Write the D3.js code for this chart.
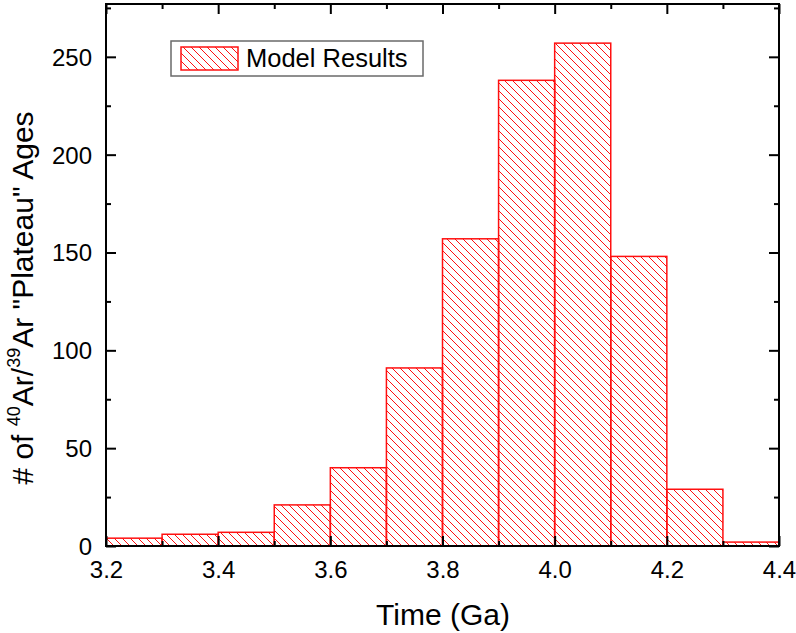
<!DOCTYPE html>
<html>
<head>
<meta charset="utf-8">
<script src="https://cdn.jsdelivr.net/npm/d3@7"></script>
<style>
  html, body { margin: 0; padding: 0; background: #fff; }
  svg { display: block; }
  text { font-family: "Liberation Sans", Arial, sans-serif; fill: #000; }
</style>
</head>
<body>
<script>
// ---- data ----
const binStarts = [3.2, 3.3, 3.4, 3.5, 3.6, 3.7, 3.8, 3.9, 4.0, 4.1, 4.2, 4.3];
const binWidth = 0.1;
const counts = [4, 6, 7, 21, 40, 91, 157, 238, 257, 148, 29, 2];
const xTicks = [3.2, 3.4, 3.6, 3.8, 4.0, 4.2, 4.4];
const xMinorTicks = [3.3, 3.5, 3.7, 3.9, 4.1, 4.3];
const yTicks = [0, 50, 100, 150, 200, 250];
const yMinorTicks = [25, 75, 125, 175, 225, 275];
const legendLabel = "Model Results";
const xTitle = "Time (Ga)";

(function () {
const W = 796, H = 633;
const mLeft = 106, mRight = 779, mTop = 4, mBottom = 546;
const red = "#ff1010";

const svg = d3.select("body").append("svg").attr("width", W).attr("height", H);

const defs = svg.append("defs");
const pat = defs.append("pattern").attr("id", "hatch")
  .attr("patternUnits", "userSpaceOnUse").attr("width", 8).attr("height", 8);
pat.append("path").attr("d", "M-2,-2 L10,10 M-2,6 L2,10 M6,-2 L10,2")
  .attr("stroke", red).attr("stroke-width", 1).attr("fill", "none");

const x = d3.scaleLinear().domain([3.2, 4.4]).range([mLeft, mRight]);
const y = d3.scaleLinear().domain([0, 277]).range([mBottom, mTop]);

// bars
svg.append("g").selectAll("rect").data(counts).join("rect")
  .attr("x", (d, i) => x(binStarts[i]))
  .attr("width", (d, i) => x(binStarts[i] + binWidth) - x(binStarts[i]))
  .attr("y", d => y(d))
  .attr("height", d => y(0) - y(d))
  .attr("fill", "url(#hatch)")
  .attr("stroke", red).attr("stroke-width", 1.5);

function axisGroup(axis, tx, ty) {
  const g = svg.append("g").attr("transform", `translate(${tx},${ty})`).call(axis);
  g.select(".domain").remove();
  g.selectAll("line").attr("stroke", "#000").attr("stroke-width", 2);
  return g;
}
const ff = "Liberation Sans, Arial, sans-serif";
// bottom
const gb = axisGroup(d3.axisBottom(x).tickValues(xTicks).tickSize(-10).tickFormat(d3.format(".1f")), 0, mBottom);
gb.selectAll("text").attr("font-size", 24).attr("dy", null).attr("y", 32).attr("font-family", ff).attr("fill", "#000");
axisGroup(d3.axisBottom(x).tickValues(xMinorTicks).tickSize(-5).tickFormat(""), 0, mBottom);
// top
axisGroup(d3.axisTop(x).tickValues(xTicks).tickSize(-10).tickFormat(""), 0, mTop);
axisGroup(d3.axisTop(x).tickValues(xMinorTicks).tickSize(-5).tickFormat(""), 0, mTop);
// left
const gl = axisGroup(d3.axisLeft(y).tickValues(yTicks).tickSize(-10), mLeft, 0);
gl.selectAll("text").attr("font-size", 24).attr("dy", "0.35em").attr("x", -14).attr("font-family", ff).attr("fill", "#000");
axisGroup(d3.axisLeft(y).tickValues(yMinorTicks.filter(v => v < 277)).tickSize(-5).tickFormat(""), mLeft, 0);
// right
axisGroup(d3.axisRight(y).tickValues(yTicks).tickSize(-10).tickFormat(""), mRight, 0);
axisGroup(d3.axisRight(y).tickValues(yMinorTicks.filter(v => v < 277)).tickSize(-5).tickFormat(""), mRight, 0);

// frame
svg.append("rect").attr("x", mLeft).attr("y", mTop).attr("width", mRight - mLeft).attr("height", mBottom - mTop)
  .attr("fill", "none").attr("stroke", "#000").attr("stroke-width", 2);

// legend
const lg = svg.append("g");
lg.append("rect").attr("x", 171).attr("y", 41).attr("width", 252).attr("height", 35)
  .attr("fill", "#fff").attr("stroke", "#6a6a6a").attr("stroke-width", 1.5);
lg.append("rect").attr("x", 181).attr("y", 47).attr("width", 57).attr("height", 23)
  .attr("fill", "url(#hatch)").attr("stroke", red).attr("stroke-width", 1.5);
lg.append("text").attr("x", 246).attr("y", 67).attr("font-size", 25.5).text(legendLabel);

// x title
svg.append("text").attr("x", 443).attr("y", 625).attr("text-anchor", "middle")
  .attr("font-size", 30).text(xTitle);

// y title
const yt = svg.append("text").attr("transform", "translate(33,298) rotate(-90)")
  .attr("text-anchor", "middle").attr("font-size", 30);
yt.append("tspan").text("# of ");
yt.append("tspan").attr("font-size", 18).attr("dy", -13).text("40");
yt.append("tspan").attr("dy", 13).text("Ar/");
yt.append("tspan").attr("font-size", 18).attr("dy", -13).text("39");
yt.append("tspan").attr("dy", 13).text("Ar \"Plateau\" Ages");
})();
</script>
</body>
</html>
